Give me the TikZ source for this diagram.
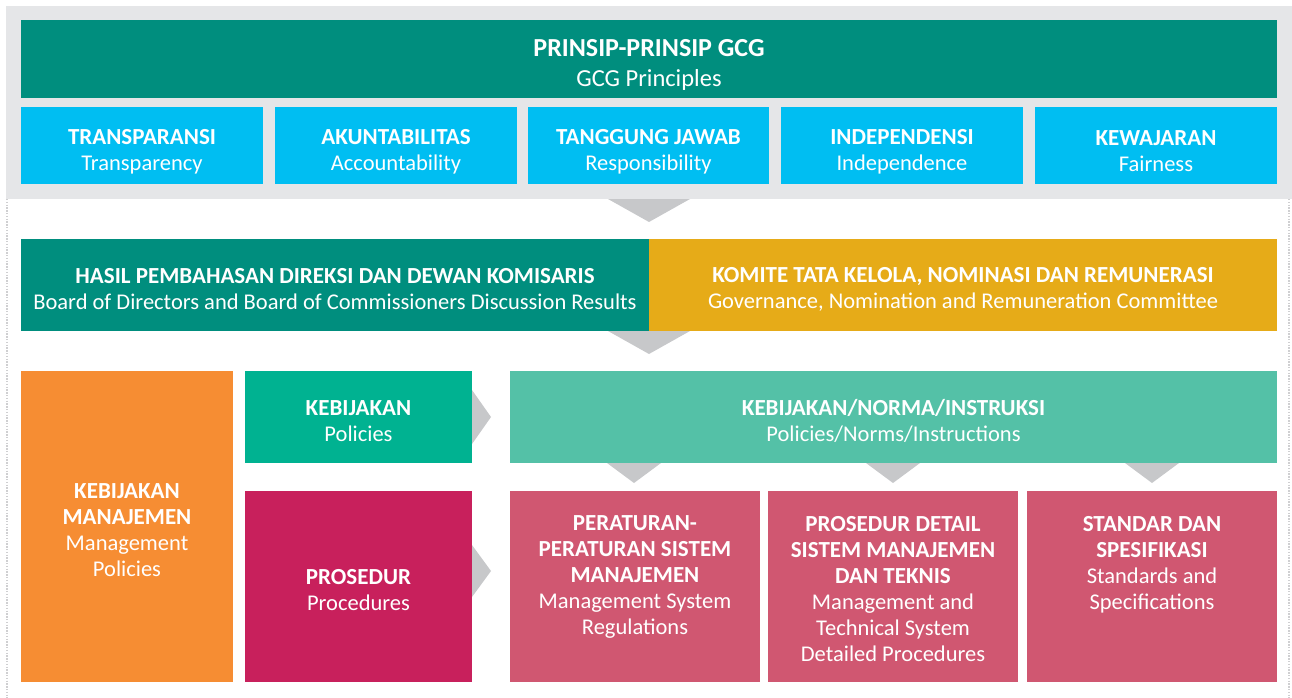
\documentclass[tikz,border=0pt]{standalone}
\usepackage{fontspec}
\setmainfont{Carlito}
\definecolor{gbg}{HTML}{E5E6E8}
\definecolor{gtri}{HTML}{C7C8CA}
\definecolor{gdot}{HTML}{CFCFD1}
\definecolor{cteal}{HTML}{008E7E}
\definecolor{cblue}{HTML}{00BEF2}
\definecolor{cgold}{HTML}{E6AB18}
\definecolor{corange}{HTML}{F68D33}
\definecolor{ckeb}{HTML}{00B291}
\definecolor{cnorm}{HTML}{54C1A7}
\definecolor{ccrim}{HTML}{C8205C}
\definecolor{cpink}{HTML}{D05771}
\newcommand{\hb}[1]{{\fontsize{23}{26}\selectfont\bfseries #1}}
\newcommand{\hbt}[1]{{\fontsize{26}{30}\selectfont\bfseries #1}}
\tikzset{
  box/.style={inner sep=0pt, outer sep=0pt, text=white, align=center,
    font=\fontsize{22.5}{26}\selectfont},
  lbl/.style={inner sep=0pt, outer sep=0pt, text=white, align=center,
    font=\fontsize{22.5}{26}\selectfont},
  txt/.style={inner sep=0pt, outer sep=0pt, text=white, align=center,
    font=\fontsize{22.5}{26}\selectfont, yshift=-4pt},
  tri/.style={fill=gtri, draw=none},
  dotline/.style={draw=gdot, line width=1.6pt, dash pattern=on 1.4pt off 1.4pt}
}
\begin{document}
\begin{tikzpicture}[x=1pt,y=-1pt]
\useasboundingbox (0,0) rectangle (1292,698);
% background panel
\fill[gbg] (6,6) rectangle (1292,199);
\coordinate (dl1) at (6.8,199); \coordinate (dl2) at (6.8,698);
\coordinate (dr1) at (1289,199); \coordinate (dr2) at (1289,698);
\draw[dotline] (dl1) -- (dl2);
\draw[dotline] (dr1) -- (dr2);
% title
\node[box, fill=cteal, minimum width=1256, minimum height=78] (title) at (649,59) {};
\node[txt, font=\fontsize{24.5}{30}\selectfont, yshift=-2pt] (titlet) at (title.center)
  {\hbt{PRINSIP-PRINSIP GCG}\\GCG Principles};
% principles
\node[box, fill=cblue, minimum width=242, minimum height=77] (p1) at (142,145.5) {};
\node[box, fill=cblue, minimum width=242, minimum height=77] (p2) at (396,145.5) {};
\node[box, fill=cblue, minimum width=241, minimum height=77] (p3) at (648.5,145.5) {};
\node[box, fill=cblue, minimum width=242, minimum height=77] (p4) at (902,145.5) {};
\node[box, fill=cblue, minimum width=242, minimum height=77] (p5) at (1156,145.5) {};
\node[txt, yshift=-2pt] (p1t) at (p1.center) {\hb{TRANSPARANSI}\\Transparency};
\node[txt, yshift=-2pt] (p2t) at (p2.center) {\hb{AKUNTABILITAS}\\Accountability};
\node[txt, yshift=-2pt] (p3t) at (p3.center) {\hb{TANGGUNG JAWAB}\\Responsibility};
\node[txt, yshift=-2pt] (p4t) at (p4.center) {\hb{INDEPENDENSI}\\Independence};
\node[txt, yshift=-2pt] (p5t) at (p5.center) {\hb{KEWAJARAN}\\Fairness};
% arrow 1
\fill[tri] (608,199) -- (690,199) -- (649,222) -- cycle;
% row 2
\node[box, fill=cteal, minimum width=628, minimum height=92] (hasil) at (335,285) {};
\node[box, fill=cgold, minimum width=628, minimum height=92] (komite) at (963,285) {};
\node[txt] (hasilt) at (hasil.center)
  {\hb{HASIL PEMBAHASAN DIREKSI DAN DEWAN KOMISARIS}\\Board of Directors and Board of Commissioners Discussion Results};
\node[txt] (komitet) at (komite.center)
  {\hb{KOMITE TATA KELOLA, NOMINASI DAN REMUNERASI}\\Governance, Nomination and Remuneration Committee};
% arrow 2
\fill[tri] (608,331) -- (690,331) -- (649,354) -- cycle;
% row 3
\node[box, fill=corange, minimum width=212, minimum height=311] (kebman) at (127,526.5) {};
\node[box, fill=ckeb, minimum width=227, minimum height=92] (keb) at (358.5,417) {};
\node[box, fill=ccrim, minimum width=227, minimum height=191] (pros) at (358.5,586.5) {};
\node[txt] (kebmant) at (kebman.center) {\hb{KEBIJAKAN}\\\hb{MANAJEMEN}\\Management\\Policies};
\node[txt] (kebt) at (keb.center) {\hb{KEBIJAKAN}\\Policies};
\node[txt] (prost) at (pros.center) {\hb{PROSEDUR}\\Procedures};
\fill[tri] (keb.east |- 0,390) -- (491,417) -- (keb.east |- 0,444) -- cycle;
\fill[tri] (pros.east |- 0,545) -- (491,571) -- (pros.east |- 0,597) -- cycle;
\node[box, fill=cnorm, minimum width=767, minimum height=92] (norma) at (893.5,417) {};
\node[txt] (normat) at (norma.center)
  {\hb{KEBIJAKAN/NORMA/INSTRUKSI}\\Policies/Norms/Instructions};
% down arrows
\foreach \c in {634,893,1152}{
  \fill[tri] (\c-27,463) -- (\c+27,463) -- (\c,483) -- cycle;
}
% bottom boxes
\node[box, fill=cpink, minimum width=250, minimum height=191] (b1) at (635,586.5) {};
\node[box, fill=cpink, minimum width=250, minimum height=191] (b2) at (893,586.5) {};
\node[box, fill=cpink, minimum width=250, minimum height=191] (b3) at (1152,586.5) {};
\node[lbl, anchor=north] (t1) at (635,516)
  {\hb{PERATURAN-}\\\hb{PERATURAN SISTEM}\\\hb{MANAJEMEN}\\Management System\\Regulations};
\node[lbl, anchor=north] (t2) at (893,516)
  {\hb{PROSEDUR DETAIL}\\\hb{SISTEM MANAJEMEN}\\\hb{DAN TEKNIS}\\Management and\\Technical System\\Detailed Procedures};
\node[lbl, anchor=north] (t3) at (1152,516)
  {\hb{STANDAR DAN}\\\hb{SPESIFIKASI}\\Standards and\\Specifications};
\end{tikzpicture}
\end{document}
